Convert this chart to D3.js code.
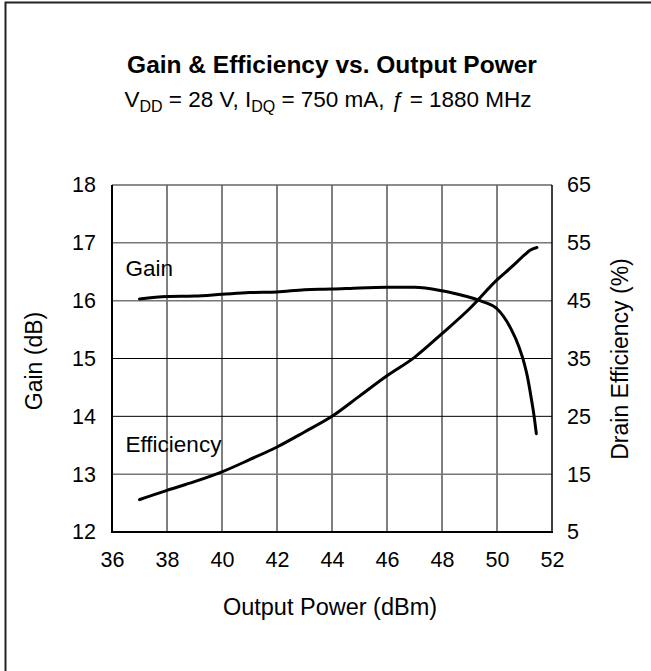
<!DOCTYPE html>
<html><head><meta charset="utf-8">
<script src="https://cdn.jsdelivr.net/npm/d3@7"></script>
<style>body{margin:0;background:#fff}svg{display:block}text{font-family:"Liberation Sans",Arial,sans-serif;fill:#000}</style>
</head><body>
<script>
const xTicks = [36,38,40,42,44,46,48,50,52];
const gainTicks = [12,13,14,15,16,17,18];
const effTicks = [5,15,25,35,45,55,65];

const gainPout = [37,38,39,40,41,42,43,44,45,46,47,48,48.5,49,49.5,50,50.5,50.8,51.0,51.1,51.25,51.35,51.43];
const gainVals = [16.03,16.07,16.08,16.11,16.14,16.15,16.19,16.20,16.22,16.23,16.23,16.17,16.12,16.06,15.98,15.86,15.52,15.2,14.9,14.7,14.3,14.0,13.70];

const effPout = [37,38,39,40,41,42,43,44,45,46,47,48,49,50,50.5,51,51.2,51.45];
const effVals = [10.6,12.2,13.7,15.4,17.5,19.7,22.3,25.0,28.5,32.0,35.2,39.3,43.6,48.6,50.7,52.9,53.7,54.2];

const W = 651, H = 671;
const svg = d3.select("body").append("svg").attr("width", W).attr("height", H);

// outer frame (extends past right/bottom edges)
svg.append("rect").attr("x",5.5).attr("y",2.5).attr("width",700).attr("height",700)
  .attr("fill","none").attr("stroke","#222").attr("stroke-width",2);

const L = 112, R = 552, T = 185, B = 532;
const x = d3.scaleLinear().domain([36,52]).range([L,R]);
const yG = d3.scaleLinear().domain([12,18]).range([B,T]);
const yE = d3.scaleLinear().domain([5,65]).range([B,T]);

// gridlines
const g = svg.append("g");
xTicks.slice(1,-1).forEach(v=>{
  g.append("line").attr("x1",x(v)).attr("x2",x(v)).attr("y1",T).attr("y2",B)
   .attr("stroke","#000").attr("stroke-width",1);
});
const grayRows = [13,16,17];
gainTicks.slice(1,-1).forEach(v=>{
  const gray = grayRows.includes(v);
  g.append("line").attr("x1",L).attr("x2",R).attr("y1",yG(v)).attr("y2",yG(v))
   .attr("stroke", gray ? "#777" : "#000").attr("stroke-width", gray ? 1.5 : 1);
});
// frame
g.append("line").attr("x1",L).attr("x2",R).attr("y1",T).attr("y2",T).attr("stroke","#666").attr("stroke-width",1.5);
g.append("line").attr("x1",R).attr("x2",R).attr("y1",T).attr("y2",B).attr("stroke","#000").attr("stroke-width",1.5);
g.append("line").attr("x1",L).attr("x2",L).attr("y1",T).attr("y2",B+1).attr("stroke","#000").attr("stroke-width",2);
g.append("line").attr("x1",L).attr("x2",R+1).attr("y1",B).attr("y2",B).attr("stroke","#000").attr("stroke-width",2);

// axes labels via d3 axes
const fs = 21.5;
const xAxis = svg.append("g").attr("transform",`translate(0,${B})`)
  .call(d3.axisBottom(x).tickValues(xTicks).tickSize(0).tickPadding(20).tickFormat(d3.format("d")));
const yAxisL = svg.append("g").attr("transform",`translate(${L},0)`)
  .call(d3.axisLeft(yG).tickValues(gainTicks).tickSize(0).tickPadding(16).tickFormat(d3.format("d")));
const yAxisR = svg.append("g").attr("transform",`translate(${R},0)`)
  .call(d3.axisRight(yE).tickValues(effTicks).tickSize(0).tickPadding(15).tickFormat(d3.format("d")));
[xAxis,yAxisL,yAxisR].forEach(a=>{
  a.select(".domain").remove();
  a.selectAll("text").attr("font-size",fs).attr("font-family","Liberation Sans, Arial, sans-serif").attr("fill","#000");
});

// curves
const line = d3.line().curve(d3.curveMonotoneX);
svg.append("path").attr("d", line(gainPout.map((p,i)=>[x(p), yG(gainVals[i])])))
  .attr("fill","none").attr("stroke","#000").attr("stroke-width",3).attr("stroke-linecap","round").attr("stroke-linejoin","round");
svg.append("path").attr("d", line(effPout.map((p,i)=>[x(p), yE(effVals[i])])))
  .attr("fill","none").attr("stroke","#000").attr("stroke-width",3).attr("stroke-linecap","round").attr("stroke-linejoin","round");

// series labels
svg.append("text").attr("x",125.5).attr("y",276).attr("font-size",22.5).text("Gain");
svg.append("text").attr("x",125.5).attr("y",451.5).attr("font-size",22.5).text("Efficiency");

// titles
svg.append("text").attr("x",332).attr("y",73).attr("text-anchor","middle")
  .attr("font-size",24.5).attr("font-weight","bold").text("Gain & Efficiency vs. Output Power");
const sub = svg.append("text").attr("x",328).attr("y",107).attr("text-anchor","middle").attr("font-size",22.5);
sub.append("tspan").text("V");
sub.append("tspan").attr("font-size",16).attr("dy",5).text("DD");
sub.append("tspan").attr("dy",-5).text(" = 28 V, I");
sub.append("tspan").attr("font-size",16).attr("dy",5).text("DQ");
sub.append("tspan").attr("dy",-5).text(" = 750 mA, ");
sub.append("tspan").attr("font-style","italic").text("ƒ");
sub.append("tspan").text(" = 1880 MHz");

svg.append("text").attr("x",330).attr("y",615).attr("text-anchor","middle").attr("font-size",23.5).text("Output Power (dBm)");
svg.append("text").attr("transform","translate(42,361) rotate(-90)").attr("text-anchor","middle").attr("font-size",23).text("Gain (dB)");
svg.append("text").attr("transform","translate(628,359) rotate(-90)").attr("text-anchor","middle").attr("font-size",23).text("Drain Efficiency (%)");
</script>
</body></html>
